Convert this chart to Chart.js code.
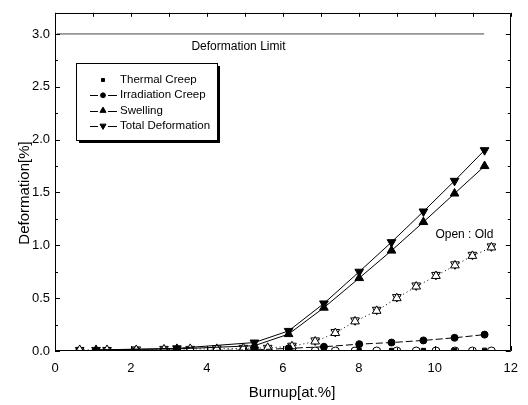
<!DOCTYPE html>
<html>
<head>
<meta charset="utf-8">
<script src="https://cdn.jsdelivr.net/npm/chart.js@4.4.1/dist/chart.umd.min.js"></script>
<style>
html, body { margin: 0; padding: 0; background: #fff; }
canvas { display: block; }
</style>
</head>
<body>
<canvas id="deformation" width="528" height="405"></canvas>
<script>
// burnup points of the current calculation
var burnup = [1.08, 3.21, 5.25, 6.15, 7.08, 8.01, 8.86, 9.70, 10.52, 11.31];
var thermalCreep = [0.0, 0.0, 0.0, 0.002, 0.003, 0.004, 0.005, 0.005, 0.006, 0.007];
var irradiationCreep = [0.0, 0.003, 0.01, 0.025, 0.04, 0.065, 0.08, 0.10, 0.125, 0.155];
var swelling = [0.01, 0.02, 0.05, 0.16, 0.41, 0.69, 0.95, 1.22, 1.49, 1.75];
var totalDeformation = [0.01, 0.025, 0.08, 0.19, 0.45, 0.75, 1.03, 1.32, 1.61, 1.90];

// old calculation (open symbols)
var oldBurnup = [0.65, 1.37, 2.14, 2.87, 3.56, 4.26, 4.96, 5.60, 6.24, 6.85, 7.38, 7.90, 8.47, 9.00, 9.51, 10.03, 10.53, 10.99, 11.49];
var oldTotal = [0.01, 0.01, 0.015, 0.02, 0.02, 0.025, 0.03, 0.03, 0.05, 0.10, 0.18, 0.29, 0.39, 0.51, 0.62, 0.72, 0.82, 0.91, 0.99];
var oldSwelling = [0.01, 0.01, 0.01, 0.015, 0.02, 0.02, 0.025, 0.03, 0.045, 0.09, 0.17, 0.28, 0.38, 0.50, 0.61, 0.71, 0.81, 0.90, 0.98];
var oldIrradiation = [0, 0, 0, 0, 0, 0, 0, 0, 0, 0, 0, 0, 0, 0, 0, 0, 0, 0, 0];

var limitBurnup = [0.05, 11.3];
var limitValue = 3.0;

var xTicks = [0, 2, 4, 6, 8, 10, 12];
var yTicks = [0, 0.5, 1.0, 1.5, 2.0, 2.5, 3.0];

var FONT = '"Liberation Sans", Arial, sans-serif';

function pts(xs, ys) {
    return xs.map(function(x, i) { return { x: x, y: ys[i] }; });
}

var frameTicks = {
    id: 'frameTicks',
    afterDraw: function(chart) {
        var ctx = chart.ctx, a = chart.chartArea;
        var x = chart.scales.x, y = chart.scales.y;
        ctx.save();
        ctx.strokeStyle = '#000';
        ctx.lineWidth = 1;
        ctx.beginPath();
        ctx.rect(Math.round(a.left) + 0.5, Math.round(a.top) + 0.5,
                 Math.round(a.right - a.left) - 1, Math.round(a.bottom - a.top) - 1);
        for (var v = 0; v <= 12; v++) {
            var px = Math.round(x.getPixelForValue(v)) + 0.5;
            var len = v % 2 === 0 ? 5 : 3;
            ctx.moveTo(px, a.bottom); ctx.lineTo(px, a.bottom - len);
            ctx.moveTo(px, a.top); ctx.lineTo(px, a.top + 4);
        }
        for (var k = 0; k <= 12; k++) {
            var val = k * 0.25;
            var py = Math.round(y.getPixelForValue(val)) + 0.5;
            var l2 = k % 2 === 0 ? 5 : 3;
            ctx.moveTo(a.left, py); ctx.lineTo(a.left + l2, py);
            ctx.moveTo(a.right, py); ctx.lineTo(a.right - l2, py);
        }
        ctx.stroke();

        // axis titles
        ctx.fillStyle = '#000';
        ctx.font = '15px ' + FONT;
        ctx.textAlign = 'center';
        ctx.textBaseline = 'middle';
        ctx.fillText('Burnup[at.%]', 292, 393);
        ctx.translate(25, 193);
        ctx.rotate(-Math.PI / 2);
        ctx.fillText('Deformation[%]', 0, 0);
        ctx.restore();

        // in-plot notes
        ctx.save();
        ctx.fillStyle = '#000';
        ctx.textAlign = 'center';
        ctx.textBaseline = 'middle';
        ctx.font = '12px ' + FONT;
        ctx.fillText('Deformation Limit', x.getPixelForValue(4.83), y.getPixelForValue(2.88));
        ctx.fillText('Open : Old', x.getPixelForValue(10.78), y.getPixelForValue(1.10));
        ctx.restore();
    }
};

var legendBox = {
    id: 'legendBox',
    afterDraw: function(chart) {
        var ctx = chart.ctx;
        var bx = 76, by = 63, bw = 141, bh = 77;
        ctx.save();
        ctx.fillStyle = '#000';
        ctx.fillRect(bx + 3, by + 3, bw, bh);
        ctx.fillStyle = '#fff';
        ctx.fillRect(bx, by, bw, bh);
        ctx.strokeStyle = '#000';
        ctx.lineWidth = 1;
        ctx.strokeRect(bx + 0.5, by + 0.5, bw, bh);

        var items = chart.data.datasets.filter(function(d) { return d.inLegend; });
        ctx.font = '11.5px ' + FONT;
        ctx.textBaseline = 'middle';
        items.forEach(function(d, i) {
            var cy = 80 + i * 15.3;
            if (d.showLine !== false) {
                ctx.beginPath();
                ctx.strokeStyle = '#000';
                ctx.moveTo(90, Math.round(cy) + 0.5); ctx.lineTo(98, Math.round(cy) + 0.5);
                ctx.moveTo(108, Math.round(cy) + 0.5); ctx.lineTo(117, Math.round(cy) + 0.5);
                ctx.stroke();
            }
            ctx.fillStyle = d.pointBackgroundColor;
            ctx.strokeStyle = d.pointBorderColor;
            ctx.lineWidth = 1;
            Chart.helpers.drawPoint(ctx, {
                pointStyle: d.pointStyle,
                rotation: d.pointRotation || 0,
                radius: d.pointRadius * 0.7,
                borderWidth: 1
            }, 103, cy);
            ctx.fillStyle = '#000';
            ctx.fillText(d.label, 120, cy);
        });
        ctx.restore();
    }
};

new Chart(document.getElementById('deformation'), {
    type: 'scatter',
    plugins: [frameTicks, legendBox],
    data: {
        datasets: [
            {
                label: 'Thermal Creep',
                inLegend: true,
                data: pts(burnup, thermalCreep),
                showLine: false,
                pointStyle: 'rect',
                pointRadius: 3,
                pointBackgroundColor: '#000',
                pointBorderColor: '#000',
                clip: 0
            },
            {
                label: 'Irradiation Creep',
                inLegend: true,
                data: pts(burnup, irradiationCreep),
                showLine: true,
                borderColor: '#000',
                borderWidth: 1,
                borderDash: [7, 3],
                pointStyle: 'circle',
                pointRadius: 3.5,
                pointBackgroundColor: '#000',
                pointBorderColor: '#000',
                clip: 0
            },
            {
                label: 'Swelling',
                inLegend: true,
                data: pts(burnup, swelling),
                showLine: true,
                borderColor: '#000',
                borderWidth: 1,
                pointStyle: 'triangle',
                pointRadius: 5,
                pointBackgroundColor: '#000',
                pointBorderColor: '#000',
                clip: 0
            },
            {
                label: 'Total Deformation',
                inLegend: true,
                data: pts(burnup, totalDeformation),
                showLine: true,
                borderColor: '#000',
                borderWidth: 1,
                pointStyle: 'triangle',
                pointRotation: 180,
                pointRadius: 5,
                pointBackgroundColor: '#000',
                pointBorderColor: '#000',
                clip: 0
            },
            {
                label: 'Old Swelling',
                data: pts(oldBurnup, oldSwelling),
                showLine: true,
                borderColor: '#000',
                borderWidth: 1,
                borderDash: [1, 3],
                pointStyle: 'triangle',
                pointRadius: 5,
                pointBackgroundColor: '#fff',
                pointBorderColor: '#000',
                pointBorderWidth: 1,
                clip: 0
            },
            {
                label: 'Old Total Deformation',
                data: pts(oldBurnup, oldTotal),
                showLine: false,
                pointStyle: 'triangle',
                pointRotation: 180,
                pointRadius: 5,
                pointBackgroundColor: 'rgba(255,255,255,0)',
                pointBorderColor: '#000',
                pointBorderWidth: 1,
                clip: 0
            },
            {
                label: 'Old Irradiation Creep',
                data: pts(oldBurnup, oldIrradiation),
                showLine: false,
                pointStyle: 'circle',
                pointRadius: 4,
                pointBackgroundColor: '#fff',
                pointBorderColor: '#000',
                pointBorderWidth: 1,
                clip: 0
            },
            {
                label: 'Deformation Limit',
                data: pts(limitBurnup, [limitValue, limitValue]),
                showLine: true,
                borderColor: '#444',
                borderWidth: 1,
                pointRadius: 0,
                clip: 0
            }
        ]
    },
    options: {
        responsive: false,
        animation: false,
        layout: { padding: { top: 8, right: 9, left: 0, bottom: 0 } },
        plugins: {
            legend: { display: false },
            tooltip: { enabled: false }
        },
        scales: {
            x: {
                type: 'linear',
                min: 0,
                max: 12,
                afterFit: function(s) { s.height = 54; },
                afterBuildTicks: function(s) { s.ticks = xTicks.map(function(v) { return { value: v }; }); },
                grid: { display: false, drawTicks: false },
                border: { display: false },
                ticks: {
                    padding: 10,
                    color: '#000',
                    font: { family: FONT, size: 13 },
                    callback: function(v) { return String(v); }
                }
            },
            y: {
                type: 'linear',
                min: 0,
                max: 3.2,
                afterFit: function(s) { s.width = 55; },
                afterBuildTicks: function(s) { s.ticks = yTicks.map(function(v) { return { value: v }; }); },
                grid: { display: false, drawTicks: false },
                border: { display: false },
                ticks: {
                    padding: 5,
                    color: '#000',
                    font: { family: FONT, size: 13 },
                    callback: function(v) { return v.toFixed(1); }
                }
            }
        }
    }
});
</script>
</body>
</html>
